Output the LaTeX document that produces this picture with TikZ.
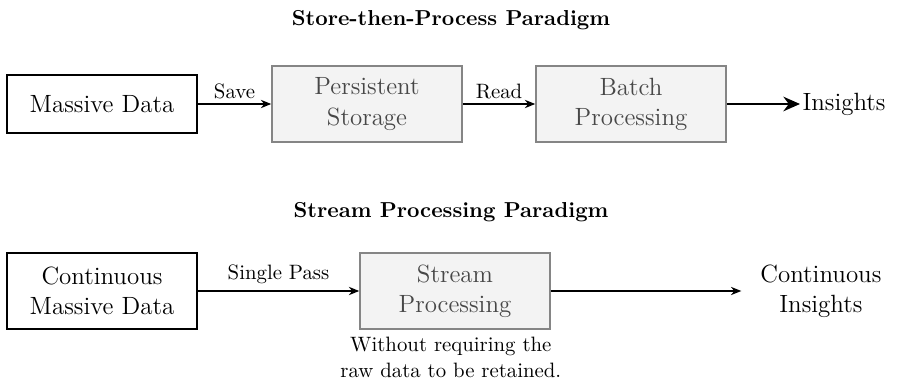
\documentclass[tikz,border=0pt]{standalone}
\usetikzlibrary{arrows.meta,positioning}
\definecolor{boxgray}{HTML}{F3F3F3}
\definecolor{bordgray}{HTML}{858585}
\definecolor{txtgray}{HTML}{474747}
\tikzset{
  databox/.style={draw=black, line width=0.8pt, fill=white, minimum width=91.3pt, align=center, font=\fontsize{12pt}{14.5pt}\selectfont, inner sep=4pt},
  procbox/.style={draw=bordgray, line width=0.8pt, fill=boxgray, text=txtgray, minimum width=91.3pt, minimum height=36.5pt, align=center, font=\fontsize{12pt}{14.5pt}\selectfont, inner sep=4pt},
  plain/.style={align=center, font=\fontsize{12pt}{14.5pt}\selectfont},
  titletext/.style={font=\fontsize{10.4pt}{12pt}\selectfont\bfseries},
  flow/.style={-{Stealth[length=5pt,width=4pt]}, line width=0.6pt},
  bigflow/.style={-{Stealth[length=8pt,width=7pt]}, line width=1.1pt},
  lbl/.style={font=\fontsize{10pt}{12pt}\selectfont, above, inner sep=2pt}
}
\begin{document}
\begin{tikzpicture}[x=0.4808pt, y=-0.4808pt]
\useasboundingbox (0,0) rectangle (897,381);
\node[titletext] (t1) at (451,20) {Store-then-Process Paradigm};
\node[databox, minimum height=27.9pt] (md) at (102,104) {Massive Data};
\node[procbox] (ps) at (367,104) {Persistent\\Storage};
\node[procbox] (bp) at (631,104) {Batch\\Processing};
\node[plain, anchor=west, inner sep=1pt] (ins) at (800,104) {Insights};
\draw[flow] (md) -- node[lbl] {Save} (ps);
\draw[flow] (ps) -- node[lbl] {Read} (bp);
\draw[bigflow] (bp) -- (ins);

\node[titletext] (t2) at (451,212) {Stream Processing Paradigm};
\node[databox, minimum height=36.5pt] (cmd) at (102,291) {Continuous\\Massive Data};
\node[procbox] (sp) at (455,291) {Stream\\Processing};
\node[plain, anchor=west, inner sep=0pt] (ci) at (760,291) {Continuous\\Insights};
\draw[flow] (cmd) -- node[lbl, yshift=1pt] {Single Pass} (sp);
\draw[flow, shorten >=15\pgflinewidth] (sp) -- (ci);
\node[align=center, font=\fontsize{10pt}{12.2pt}\selectfont, anchor=north, inner sep=2pt, yshift=-1.5pt, xshift=-2pt] (note) at (sp.south) {Without requiring the\\raw data to be retained.};
\end{tikzpicture}
\end{document}
